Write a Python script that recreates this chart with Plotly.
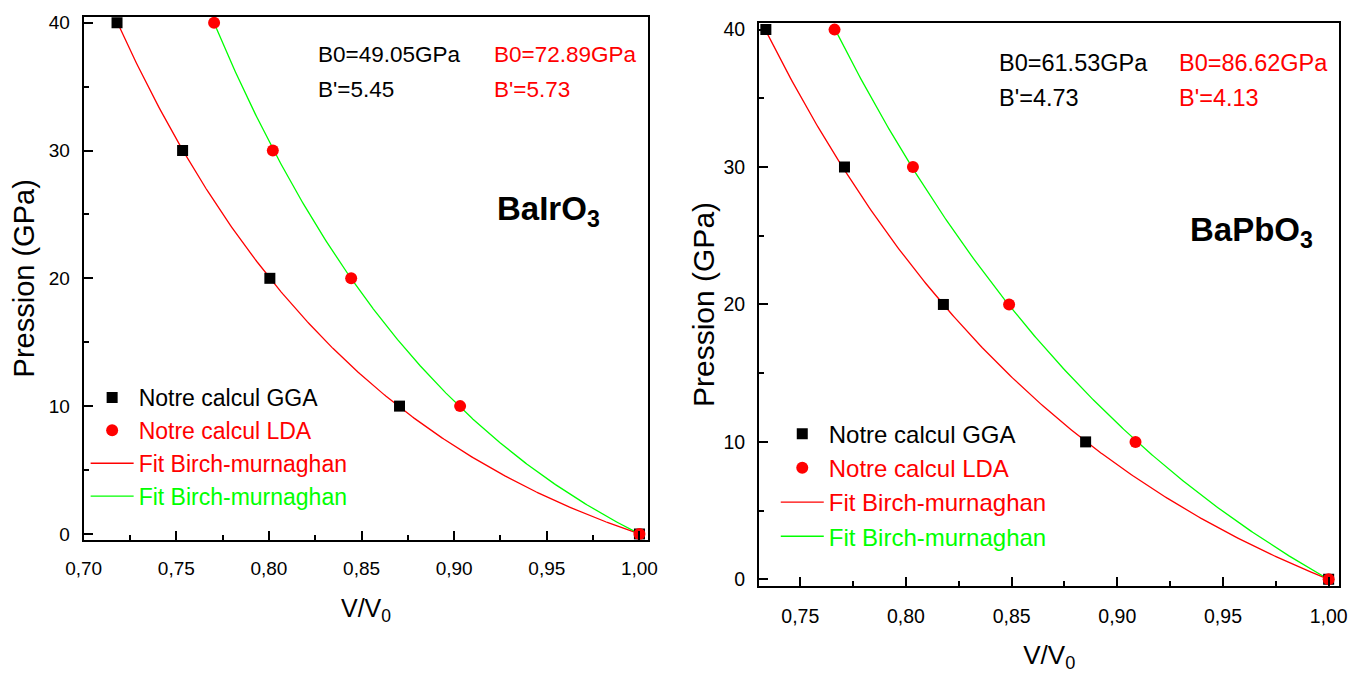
import numpy as np
import plotly.graph_objects as go

# Pressure steps (GPa) shared by every calculation
pressure = [40, 30, 20, 10, 0]

# BaIrO3 : relative volume V/V0 at each pressure
bairo3_v_gga = [0.718, 0.7534, 0.8005, 0.8705, 1.0]
bairo3_v_lda = [0.7704, 0.8021, 0.8444, 0.9032, 1.0]
bairo3_b0 = [49.05, 72.89]      # GGA, LDA bulk modulus (GPa)
bairo3_bp = [5.45, 5.73]        # GGA, LDA pressure derivative

# BaPbO3 : relative volume V/V0 at each pressure
bapbo3_v_gga = [0.7337, 0.7709, 0.8177, 0.885, 1.0]
bapbo3_v_lda = [0.7662, 0.8033, 0.8488, 0.9086, 1.0]
bapbo3_b0 = [61.53, 86.62]
bapbo3_bp = [4.73, 4.13]

FONT = "Liberation Sans, Arial, sans-serif"
W, H = 1370, 679


def birch_murnaghan(x, b0, bp):
    """Third-order Birch-Murnaghan pressure for relative volume x = V/V0."""
    x = np.asarray(x)
    return 1.5 * b0 * (x ** (-7 / 3) - x ** (-5 / 3)) * (1 + 0.75 * (bp - 4) * (x ** (-2 / 3) - 1))


def px_dom_x(a, b):
    return [a / W, b / W]


def px_dom_y(top, bottom):
    return [(H - bottom) / H, (H - top) / H]


fig = go.Figure()

panels = [
    dict(xa="x", ya="y", leg="legend", v_gga=bairo3_v_gga, v_lda=bairo3_v_lda,
         b0=bairo3_b0, bp=bairo3_bp),
    dict(xa="x2", ya="y2", leg="legend2", v_gga=bapbo3_v_gga, v_lda=bapbo3_v_lda,
         b0=bapbo3_b0, bp=bapbo3_bp),
]

for p in panels:
    xs_gga = np.linspace(min(p["v_gga"]), max(p["v_gga"]), 300)
    xs_lda = np.linspace(min(p["v_lda"]), max(p["v_lda"]), 300)
    fig.add_trace(go.Scatter(
        x=xs_gga, y=birch_murnaghan(xs_gga, p["b0"][0], p["bp"][0]), mode="lines",
        line=dict(color="#ff0000", width=1.3), xaxis=p["xa"], yaxis=p["ya"],
        legend=p["leg"], legendrank=3,
        name='<span style="color:#ff0000">Fit Birch-murnaghan</span>'))
    fig.add_trace(go.Scatter(
        x=xs_lda, y=birch_murnaghan(xs_lda, p["b0"][1], p["bp"][1]), mode="lines",
        line=dict(color="#00ff00", width=1.3), xaxis=p["xa"], yaxis=p["ya"],
        legend=p["leg"], legendrank=4,
        name='<span style="color:#00ff00">Fit Birch-murnaghan</span>'))
    fig.add_trace(go.Scatter(
        x=p["v_gga"], y=pressure, mode="markers",
        marker=dict(symbol="square", size=11, color="black"),
        xaxis=p["xa"], yaxis=p["ya"], legend=p["leg"], legendrank=1,
        name="Notre calcul GGA"))
    fig.add_trace(go.Scatter(
        x=p["v_lda"], y=pressure, mode="markers",
        marker=dict(symbol="circle", size=12, color="#ff0000"),
        xaxis=p["xa"], yaxis=p["ya"], legend=p["leg"], legendrank=2,
        name='<span style="color:#ff0000">Notre calcul LDA</span>'))


def axis(tsize, **kw):
    d = dict(showline=True, linecolor="black", linewidth=2, mirror=True,
             ticks="inside", ticklen=9, tickwidth=2, tickcolor="black",
             showgrid=False, zeroline=False,
             tickfont=dict(family=FONT, size=tsize, color="black"))
    d.update(kw)
    return d


x_minor = dict(ticks="inside", ticklen=5, tickwidth=1.5, tickcolor="black", dtick=0.025, showgrid=False)
y_minor = dict(ticks="inside", ticklen=5, tickwidth=1.5, tickcolor="black", dtick=5, showgrid=False)

fig.update_layout(
    width=W, height=H, margin=dict(l=0, r=0, t=0, b=0),
    paper_bgcolor="white", plot_bgcolor="white", separators=",.",
    xaxis=axis(19, domain=px_dom_x(67, 643), range=[0.70, 1.0048], tick0=0, dtick=0.05,
               tickformat=".2f", minor=x_minor, ticklabelstandoff=10, anchor="y",
               title=dict(text="V/V<sub>0</sub>", font=dict(family=FONT, size=25, color="black"),
                          standoff=22)),
    yaxis=axis(19, domain=px_dom_y(13, 543), range=[-0.46, 40.46], tick0=0, dtick=10,
               minor=y_minor, ticklabelstandoff=8, anchor="x",
               title=dict(text="Pression (GPa)", font=dict(family=FONT, size=29, color="black"),
                          standoff=6)),
    xaxis2=axis(19.5, domain=px_dom_x(756, 1348), range=[0.7305, 1.0051], tick0=0, dtick=0.05,
                tickformat=".2f", minor=x_minor, ticklabelstandoff=11, anchor="y2",
                title=dict(text="V/V<sub>0</sub>", font=dict(family=FONT, size=26, color="black"),
                           standoff=20)),
    yaxis2=axis(19.5, domain=px_dom_y(19, 590), range=[-0.5, 40.5], tick0=0, dtick=10,
                minor=y_minor, ticklabelstandoff=8, anchor="x2",
                title=dict(text="Pression (GPa)", font=dict(family=FONT, size=30, color="black"),
                           standoff=0)),
    legend=dict(x=69 / W, y=1 - 377 / H, xanchor="left", yanchor="top", bgcolor="rgba(0,0,0,0)",
                font=dict(family=FONT, size=23, color="black"), itemwidth=43, tracegroupgap=0),
    legend2=dict(x=773 / W, y=1 - 413 / H, xanchor="left", yanchor="top", bgcolor="rgba(0,0,0,0)",
                 font=dict(family=FONT, size=24, color="black"), itemwidth=43, tracegroupgap=0),
    showlegend=True,
)

# Fit parameters and compound labels
ann = []
for p, cols, rows, lab, lab_pos, fsz, lsz in [
    (panels[0], (0.8254, 0.9206), (37.5, 34.8), "BaIrO<sub>3</sub>", (0.9508, 25.3), 22.5, 33),
    (panels[1], (0.8432, 0.9281), (37.6, 35.0), "BaPbO<sub>3</sub>", (0.9634, 25.3), 23.5, 33),
]:
    for i, color in enumerate(["black", "#ff0000"]):
        ann.append(dict(x=cols[i], y=rows[0], xref=p["xa"], yref=p["ya"], xanchor="left", yanchor="middle",
                        text=f"B0={p['b0'][i]:.2f}GPa", showarrow=False,
                        font=dict(family=FONT, size=fsz, color=color)))
        ann.append(dict(x=cols[i], y=rows[1], xref=p["xa"], yref=p["ya"], xanchor="left", yanchor="middle",
                        text=f"B'={p['bp'][i]:.2f}", showarrow=False,
                        font=dict(family=FONT, size=fsz, color=color)))
    ann.append(dict(x=lab_pos[0], y=lab_pos[1], xref=p["xa"], yref=p["ya"], xanchor="center", yanchor="middle",
                    text=f"<b>{lab}</b>", showarrow=False,
                    font=dict(family=FONT, size=lsz, color="black")))

fig.update_layout(annotations=ann)
fig.write_html("out.html")
